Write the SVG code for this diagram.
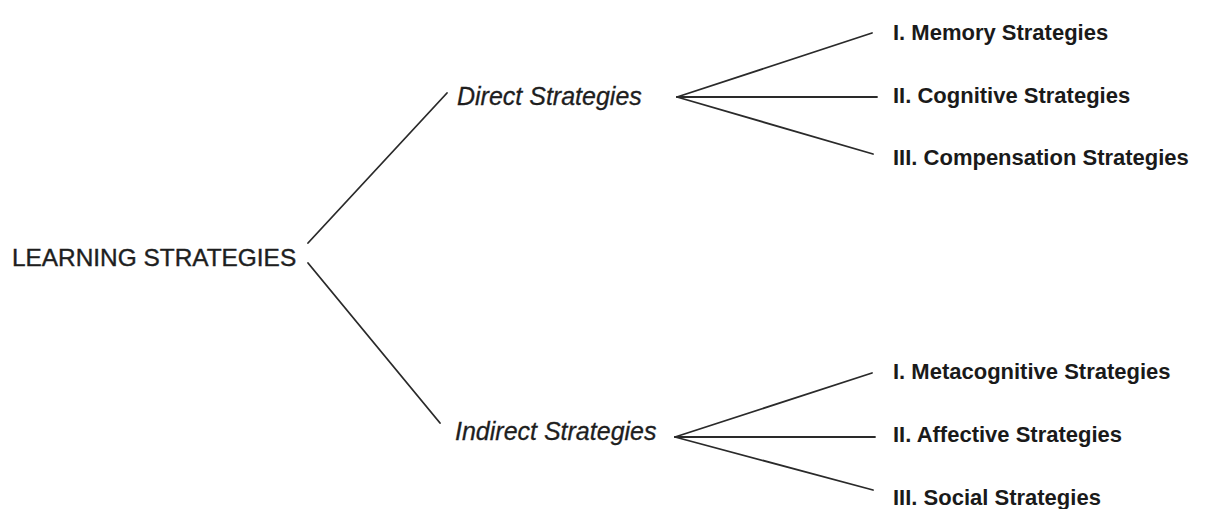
<svg xmlns="http://www.w3.org/2000/svg" width="1218" height="509" viewBox="0 0 1218 509">
  <style>
    .root { font-family: "Liberation Sans", Arial, sans-serif; font-size: 24.4px; fill: #1e1e1e; stroke: #1e1e1e; stroke-width: 0.4px; }
    .branch { font-family: "Liberation Sans", Arial, sans-serif; font-size: 25px; font-style: italic; fill: #1e1e1e; stroke: #1e1e1e; stroke-width: 0.3px; }
    .leaf { font-family: "Liberation Sans", Arial, sans-serif; font-size: 22px; font-weight: bold; fill: #1a1a1a; }
    .edge { stroke: #2a2a2a; stroke-width: 1.8; fill: none; stroke-linecap: round; }
  </style>
  <rect width="1218" height="509" fill="#ffffff"/>

  <g id="connectors">
    <line class="edge" x1="308" y1="243" x2="447" y2="93"/>
    <line class="edge" x1="308" y1="263" x2="440" y2="423"/>
    <line class="edge" x1="677" y1="97" x2="872" y2="33"/>
    <line class="edge" x1="677" y1="97" x2="877" y2="97"/>
    <line class="edge" x1="677" y1="97" x2="873" y2="154"/>
    <line class="edge" x1="675" y1="437" x2="872" y2="373"/>
    <line class="edge" x1="675" y1="437" x2="875" y2="437"/>
    <line class="edge" x1="675" y1="437" x2="873" y2="490"/>
  </g>

  <g id="learning-strategies"><text class="root" x="12" y="266">LEARNING STRATEGIES</text></g>
  <g id="direct-strategies"><text class="branch" x="457" y="105">Direct Strategies</text></g>
  <g id="indirect-strategies"><text class="branch" x="455" y="440">Indirect Strategies</text></g>

  <g id="memory"><text class="leaf" x="893" y="40">I. Memory Strategies</text></g>
  <g id="cognitive"><text class="leaf" x="893" y="103">II. Cognitive Strategies</text></g>
  <g id="compensation"><text class="leaf" x="893" y="165">III. Compensation Strategies</text></g>
  <g id="metacognitive"><text class="leaf" x="893" y="379">I. Metacognitive Strategies</text></g>
  <g id="affective"><text class="leaf" x="893" y="442">II. Affective Strategies</text></g>
  <g id="social"><text class="leaf" x="893" y="505">III. Social Strategies</text></g>
</svg>
